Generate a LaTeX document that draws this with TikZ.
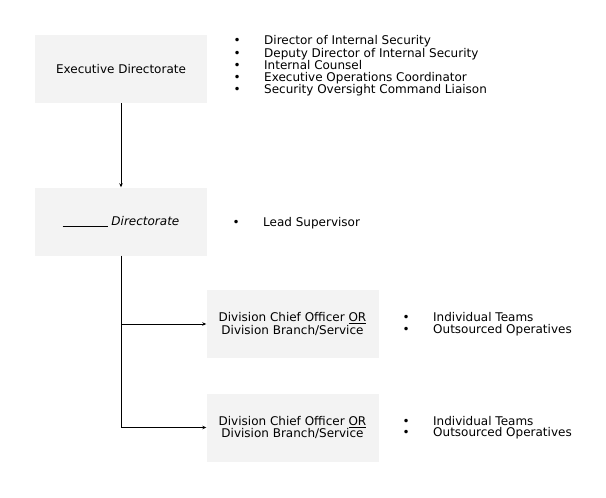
\documentclass[tikz,border=0pt]{standalone}
\usepackage{fontspec}
\setmainfont{DejaVu Sans}
\usetikzlibrary{arrows.meta}
\definecolor{boxfill}{HTML}{F3F3F3}
\newcommand\bitem[1]{\makebox[54pt][c]{•}#1}
\tikzset{
  unitbox/.style={fill=boxfill, draw=none, minimum width=172pt, minimum height=68pt, inner sep=0pt, align=center, font=\fontsize{12}{12.3}\selectfont},
  blist/.style={anchor=west, inner sep=0pt, align=left, font=\fontsize{12}{11.4}\selectfont},
  conn/.style={line width=0.8pt, -{Stealth[length=4pt,width=3.5pt]}},
  plain/.style={line width=0.8pt}
}
\begin{document}
\begin{tikzpicture}[x=1pt,y=-1pt]
\useasboundingbox (0,0) rectangle (606,498);
\node[unitbox] (exec) at (121,69) {Executive Directorate};
\node[unitbox] (dir) at (121,221.5) {\rule[-1pt]{45pt}{0.5pt}\ \textit{Directorate}};
\node[unitbox] (div1) at (292.5,324) {Division Chief Officer \underline{OR}\\Division Branch/Service};
\node[unitbox] (div2) at (292.5,427.5) {Division Chief Officer \underline{OR}\\Division Branch/Service};
\node[blist] (l1) at (210,66) {\bitem{Director of Internal Security}\\\bitem{Deputy Director of Internal Security}\\\bitem{Internal Counsel}\\\bitem{Executive Operations Coordinator}\\\bitem{Security Oversight Command Liaison}};
\node[blist] (l2) at (209,223) {\bitem{Lead Supervisor}};
\node[blist] (l3) at (379,324) {\bitem{Individual Teams}\\\bitem{Outsourced Operatives}};
\node[blist] (l4) at (379,427.5) {\bitem{Individual Teams}\\\bitem{Outsourced Operatives}};
\coordinate (j1) at (121,324);
\coordinate (j2) at (121,427.5);
\draw[conn] (exec.south) -- (dir.north);
\draw[plain] (dir.south) -- (j2);
\draw[conn] (j1) -- (div1.west);
\draw[conn] (j2) -- (div2.west);
\end{tikzpicture}
\end{document}
